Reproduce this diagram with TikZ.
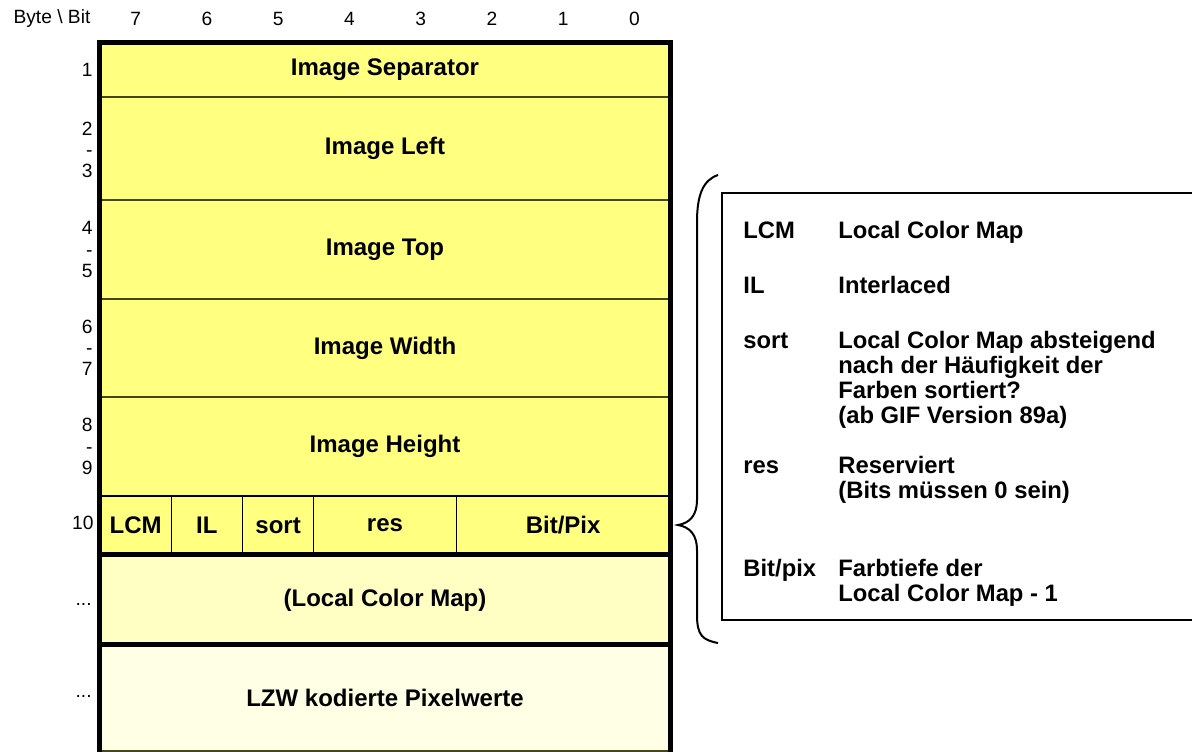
\documentclass[tikz,border=0pt]{standalone}
\usepackage{fontspec}
\setmainfont{Liberation Sans}
\usetikzlibrary{positioning,calc}
\definecolor{fieldyellow}{RGB}{255,255,128}
\definecolor{mapyellow}{RGB}{255,255,196}
\definecolor{datayellow}{RGB}{255,255,230}
\definecolor{rowline}{RGB}{70,70,30}
\newcommand{\fieldfont}{\fontsize{12}{14}\selectfont\bfseries}
\newcommand{\numfont}{\fontsize{9.6}{10.6}\selectfont}
\newcommand{\legendfont}{\fontsize{11.9}{12.6}\selectfont\bfseries}

\tikzset{
  every node/.style={inner sep=0pt},
  field/.style={draw=rowline, line width=0.6pt, fill=fieldyellow, minimum width=285pt, font=\fieldfont},
  bitfield/.style={field, draw=black, minimum height=29.5pt},
  rowno/.style={font=\numfont, anchor=east, align=right},
  legkey/.style={font=\legendfont, anchor=base west, align=left},
  frame/.style={line width=2.4pt, line join=miter},
}

\begin{document}
\begin{tikzpicture}[x=0.5pt, y=-0.5pt]
  \useasboundingbox (0,0) rectangle (1192,751);
  % Header
  \node[font=\numfont] (head) at (52,19) {Byte \textbackslash{} Bit};
  \foreach \b in {0,...,7} {
    \node[font=\numfont] (bit\b) at ({100+(7-\b+0.5)*71.25},19) {\b};
  }
  % Header fields
  \node[field, minimum height=27pt] (sep) at (385,70) {Image Separator};
  \node[field, minimum height=51.5pt] (left) at (385,148.5) {Image Left};
  \node[field, minimum height=49.5pt] (top) at (385,249.5) {Image Top};
  \node[field, minimum height=49pt] (width) at (385,348) {Image Width};
  \node[field, minimum height=49.5pt] (height) at (385,446.5) {Image Height};
  % Byte 10
  \node[bitfield, minimum width=35.6pt] (lcm) at (135.6,525.5) {LCM};
  \node[bitfield, minimum width=35.6pt] (il) at (206.9,525.5) {IL};
  \node[bitfield, minimum width=35.6pt] (sort) at (278.1,525.5) {sort};
  \node[bitfield, minimum width=71.25pt] (res) at (385,525.5) {res};
  \node[bitfield, minimum width=106.9pt] (bpp) at (563.1,525.5) {Bit/Pix};
  % Color map and data
  \node[field, fill=mapyellow, minimum height=45pt] (map) at (385,600) {(Local Color Map)};
  \node[field, fill=datayellow, minimum height=53pt] (lzw) at (385,698) {LZW kodierte Pixelwerte};
  % Frame
  \draw[frame] ($(lzw.south west)+(0,10)$) -- (sep.north west) -- (sep.north east) -- ($(lzw.south east)+(0,10)$);
  \draw[frame] (map.north west) -- (map.north east);
  \draw[frame] (lzw.north west) -- (lzw.north east);
  % Byte numbers
  \node[rowno] (n1) at (93,70) {1};
  \node[rowno] (n2) at (93,150) {2\\-\\3};
  \node[rowno] (n4) at (93,249.5) {4\\-\\5};
  \node[rowno] (n6) at (93,348) {6\\-\\7};
  \node[rowno] (n8) at (93,446.5) {8\\-\\9};
  \node[rowno] (n10) at (94,523) {10};
  \node[rowno] (nmap) at (92,604) {...};
  \node[rowno] (nlzw) at (92,696) {...};
  % Legend
  \node[draw, line width=1pt, minimum width=244pt, minimum height=213.5pt] (legend) at (966,406.5) {};
  \draw[line width=1pt] (718,175) .. controls (703,180) and (697,195) .. (697,222) -- (697,500)
    .. controls (697,515) and (690,523) .. (678,525) .. controls (690,527) and (697,535) .. (697,550)
    -- (697,615) .. controls (697,636) and (703,640) .. (718,643);
  % (base of a node with several lines = last line)
  \node[legkey] (klcm) at (743,238) {LCM};
  \node[legkey] (dlcm) at (838,238) {Local Color Map};
  \node[legkey] (kil) at (743,293) {IL};
  \node[legkey] (dil) at (838,293) {Interlaced};
  \node[legkey] (ksort) at (743,348) {sort};
  \node[legkey] (dsort) at (838,423.6) {Local Color Map absteigend\\nach der Häufigkeit der\\Farben sortiert?\\(ab GIF Version 89a)};
  \node[legkey] (kres) at (743,473) {res};
  \node[legkey] (dres) at (838,498.2) {Reserviert\\(Bits müssen 0 sein)};
  \node[legkey] (kbpp) at (743,576) {Bit/pix};
  \node[legkey] (dbpp) at (838,601.2) {Farbtiefe der\\Local Color Map - 1};
\end{tikzpicture}
\end{document}
